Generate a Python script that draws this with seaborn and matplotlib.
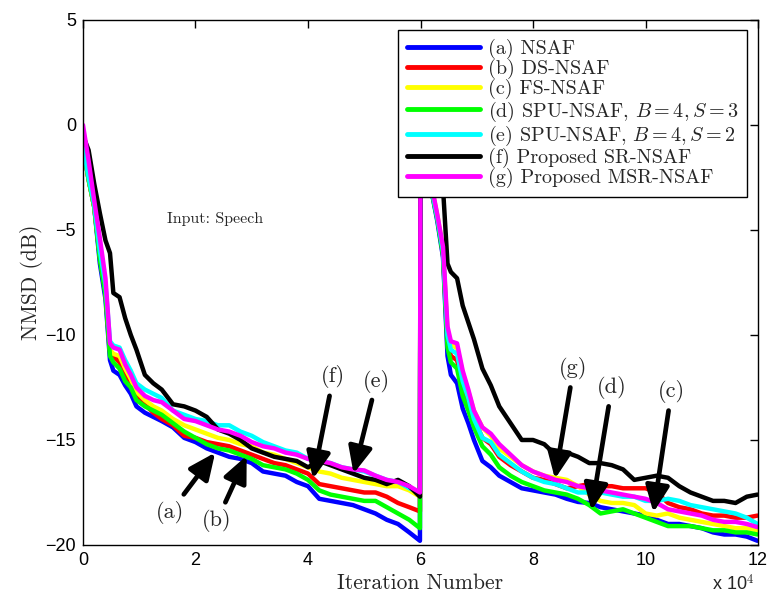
import matplotlib
matplotlib.use("Agg")
import matplotlib.pyplot as plt
import seaborn as sns
import numpy as np
import pandas as pd
from matplotlib.ticker import FuncFormatter

# Iteration offsets inside each 60000-sample run (the echo path changes at 6e4)
run_iters = [0, 1000, 2000, 3000, 4000, 4800, 5400, 6500, 7500, 8500, 9500, 11000,
             12500, 14000, 16000, 18000, 20000, 22000, 24000, 26000, 28000, 30000,
             32000, 34000, 36000, 38000, 40000, 42000, 44000, 46000, 48000, 50000,
             52000, 54000, 56000, 58000, 59900]
change_at = 60000

# NMSD (dB) of each algorithm: first run followed by second run
nsaf = [-1.0, -2.6, -3.9, -6.6, -8.3, -11.2, -11.7, -11.9, -12.4, -12.8, -13.4, -13.7,
        -13.9, -14.1, -14.4, -14.9, -15.1, -15.4, -15.6, -15.8, -15.9, -16.1,
        -16.5, -16.6, -16.7, -17.0, -17.2, -17.8, -17.9, -18.0, -18.1, -18.3,
        -18.5, -18.8, -19.0, -19.4, -19.8,
        -1.0, -2.0, -3.2, -4.6, -6.3, -11.0, -11.9, -12.3, -13.5, -14.2, -15.0, -16.0,
        -16.3, -16.7, -17.0, -17.3, -17.4, -17.5, -17.6, -17.8, -17.95, -18.0,
        -18.2, -18.3, -18.4, -18.5, -18.6, -18.8, -19.0, -19.0, -19.1, -19.2,
        -19.4, -19.5, -19.5, -19.6, -19.8]
ds_nsaf = [-1.0, -2.6, -3.9, -6.3, -8.0, -10.8, -11.0, -11.3, -11.9, -12.3, -12.9, -13.3,
           -13.7, -14.0, -14.3, -14.8, -14.9, -15.1, -15.2, -15.3, -15.5, -15.7,
           -15.9, -16.1, -16.2, -16.4, -16.6, -17.1, -17.2, -17.3, -17.4, -17.5,
           -17.5, -17.7, -18.0, -18.2, -18.4,
           -1.0, -2.0, -3.1, -4.4, -6.1, -10.2, -11.0, -11.2, -12.4, -13.1, -14.0, -14.9,
           -15.2, -15.8, -16.2, -16.5, -16.8, -16.9, -17.1, -17.3, -17.2, -17.1,
           -17.2, -17.2, -17.3, -17.3, -17.3, -17.5, -18.0, -18.2, -18.3, -18.5,
           -18.6, -18.6, -18.7, -18.7, -18.6]
fs_nsaf = [-1.0, -2.6, -3.9, -6.2, -7.9, -10.7, -10.9, -11.0, -11.6, -12.1, -12.7, -13.1,
           -13.4, -13.6, -14.0, -14.3, -14.5, -14.7, -14.9, -15.0, -15.2, -15.3,
           -15.6, -15.7, -15.9, -16.1, -16.3, -16.5, -16.6, -16.8, -16.9, -17.0,
           -17.1, -17.2, -17.2, -17.4, -17.7,
           -1.0, -1.8, -3.0, -4.3, -5.9, -9.8, -10.5, -10.6, -11.8, -12.7, -13.6, -14.4,
           -14.8, -15.4, -15.8, -16.2, -16.5, -16.7, -16.8, -16.9, -17.2, -17.6,
           -17.9, -18.0, -18.0, -18.1, -18.5, -18.6, -18.5, -18.7, -18.8, -18.9,
           -19.0, -19.1, -19.2, -19.2, -19.3]
spu_s3 = [-1.0, -2.6, -3.9, -6.4, -8.1, -11.0, -11.3, -11.6, -12.2, -12.5, -13.1, -13.4,
          -13.6, -13.8, -14.2, -14.6, -14.9, -15.2, -15.4, -15.5, -15.7, -15.9,
          -16.2, -16.3, -16.4, -16.6, -16.9, -17.4, -17.6, -17.7, -17.8, -17.9,
          -17.9, -18.2, -18.5, -18.8, -19.2,
          -1.0, -2.0, -3.2, -4.5, -6.2, -10.6, -11.3, -11.6, -12.9, -13.6, -14.4, -15.3,
          -15.7, -16.3, -16.7, -17.0, -17.2, -17.4, -17.5, -17.6, -17.8, -18.1,
          -18.5, -18.4, -18.3, -18.5, -18.7, -18.9, -19.1, -19.1, -19.1, -19.2,
          -19.3, -19.3, -19.4, -19.4, -19.5]
spu_s2 = [-1.0, -2.5, -3.8, -6.0, -7.6, -10.3, -10.5, -10.6, -11.2, -11.7, -12.3, -12.6,
          -12.8, -13.0, -13.6, -13.8, -14.0, -14.1, -14.3, -14.3, -14.6, -14.8,
          -15.1, -15.3, -15.5, -15.6, -15.9, -16.0, -16.1, -16.3, -16.4, -16.5,
          -16.7, -16.9, -17.0, -17.3, -17.5,
          -1.0, -1.9, -3.1, -4.4, -6.0, -10.0, -10.7, -10.9, -12.2, -13.0, -14.0, -14.9,
          -15.1, -15.7, -16.1, -16.5, -16.8, -17.0, -17.1, -17.3, -17.5, -17.5,
          -17.5, -17.6, -17.7, -17.7, -17.9, -17.9, -17.8, -17.9, -18.1, -18.2,
          -18.3, -18.4, -18.5, -18.7, -19.0]
sr_nsaf = [-0.5, -1.2, -2.8, -4.2, -5.5, -6.1, -8.0, -8.2, -9.2, -10.0, -10.7, -11.9,
           -12.3, -12.6, -13.3, -13.4, -13.6, -13.9, -14.5, -14.7, -15.0, -15.4,
           -15.6, -15.8, -15.9, -16.0, -16.3, -16.0, -16.2, -16.4, -16.6, -16.8,
           -16.9, -17.1, -16.9, -17.2, -17.7,
           -0.5, -0.9, -1.6, -2.3, -3.0, -6.6, -7.0, -7.3, -8.6, -9.4, -10.2, -11.6,
           -12.4, -13.4, -14.2, -15.0, -15.0, -15.2, -15.7, -15.6, -15.8, -16.1,
           -16.1, -16.2, -16.4, -16.9, -16.8, -16.7, -16.8, -17.2, -17.5, -17.7,
           -17.9, -17.9, -18.0, -17.7, -17.6]
msr_nsaf = [0.0, -1.7, -3.6, -5.4, -7.3, -10.4, -10.6, -10.7, -11.4, -11.9, -12.5, -12.9,
            -13.1, -13.2, -13.6, -14.0, -14.1, -14.3, -14.5, -14.6, -14.8, -15.1,
            -15.3, -15.4, -15.6, -15.7, -15.9, -16.0, -16.1, -16.3, -16.4, -16.45,
            -16.7, -16.9, -17.0, -17.2, -17.5,
            0.0, -1.4, -2.9, -4.3, -5.8, -9.6, -10.3, -10.4, -11.7, -12.6, -13.6, -14.4,
            -14.7, -15.2, -15.7, -16.2, -16.5, -16.7, -16.9, -17.0, -17.2, -17.3,
            -17.4, -17.5, -17.6, -17.7, -17.8, -18.0, -18.3, -18.4, -18.5, -18.6,
            -18.8, -18.9, -18.9, -19.0, -19.15]

labels = ["(a) NSAF", "(b) DS-NSAF", "(c) FS-NSAF",
          r"(d) SPU-NSAF, $B=4, S=3$", r"(e) SPU-NSAF, $B=4, S=2$",
          "(f) Proposed SR-NSAF", "(g) Proposed MSR-NSAF"]
colors = ["#0000ff", "#ff0000", "#ffff00", "#00ff00", "#00ffff", "#000000", "#ff00ff"]
series = [nsaf, ds_nsaf, fs_nsaf, spu_s3, spu_s2, sr_nsaf, msr_nsaf]

iterations = run_iters + [change_at + k for k in run_iters]

sns.set_theme(style="white")
plt.rcParams["mathtext.fontset"] = "cm"
plt.rcParams["font.family"] = ["DejaVu Sans"]
serif = "cmr10"
sans = "Liberation Sans"

fig = plt.figure(figsize=(7.67, 6.04), dpi=100)
ax = fig.add_axes([0.1082, 0.0977, 0.8801, 0.8692])

for lab, col, vals in zip(labels, colors, series):
    df = pd.DataFrame({"iteration": iterations, "nmsd": vals})
    sns.lineplot(data=df, x="iteration", y="nmsd", color=col, lw=3.2, label=lab,
                 estimator=None, sort=False, ax=ax)

ax.set_xlim(0, 120000)
ax.set_ylim(-20, 5)
ax.set_xticks(np.arange(0, 120001, 20000))
ax.xaxis.set_major_formatter(FuncFormatter(lambda v, p: f"{v / 1e4:g}"))
ax.set_yticks(np.arange(-20, 6, 5))
ax.tick_params(direction="in", length=6, width=1, top=True, right=True,
               labelsize=13, colors="black", pad=5)
for t in ax.get_xticklabels() + ax.get_yticklabels():
    t.set_fontfamily(sans)
for s in ax.spines.values():
    s.set_color("black")
    s.set_linewidth(1.0)

ax.set_xlabel("Iteration Number", fontfamily=serif, fontsize=15.5, labelpad=3)
ax.set_ylabel("NMSD (dB)", fontfamily=serif, fontsize=15.5, labelpad=2)
fig.text(0.928, 0.022, r"x 10$^{4}$", fontfamily=sans, fontsize=13)

ax.text(15000, -4.5, "Input: Speech", fontfamily=serif, fontsize=11.5, va="center")

arrow = dict(arrowstyle="-|>,head_length=1.0,head_width=0.45", lw=3.4, color="black",
             shrinkA=3, shrinkB=0)
notes = [("(a)", (15500, -18.45), (23500, -15.6)),
         ("(b)", (23800, -18.85), (29100, -15.75)),
         ("(f)", (44500, -12.0), (40900, -16.85)),
         ("(e)", (52200, -12.2), (48100, -16.6)),
         ("(g)", (87200, -11.6), (83900, -16.85)),
         ("(d)", (94000, -12.5), (90400, -18.35)),
         ("(c)", (104600, -12.7), (101400, -18.45))]
for txt, xy_text, xy_tip in notes:
    ax.annotate(txt, xy=xy_tip, xytext=xy_text, fontfamily=serif, fontsize=16,
                ha="center", va="center", arrowprops=arrow)

leg = ax.legend(loc="upper right", bbox_to_anchor=(0.984, 0.981), borderaxespad=0,
                prop={"family": serif, "size": 14.5}, frameon=True, fancybox=False,
                framealpha=1, edgecolor="black", handlelength=3.6, handletextpad=0.4,
                labelspacing=0.0, borderpad=0.45)
leg.get_frame().set_linewidth(1.0)
for h in leg.get_lines():
    h.set_linewidth(3.5)

fig.savefig("out.png", dpi=100)
